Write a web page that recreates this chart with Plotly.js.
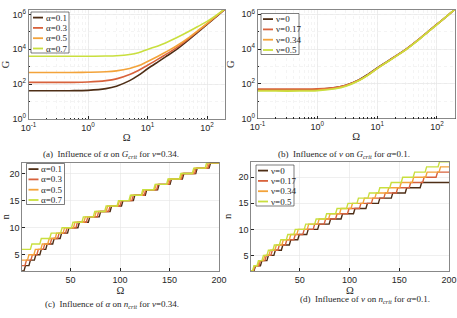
<!DOCTYPE html>
<html>
<head>
<meta charset="utf-8">
<script src="https://cdn.plot.ly/plotly-3.0.1.min.js"></script>
<style>html,body{margin:0;padding:0;background:#fff;}#chart{width:457px;height:318px;}</style>
</head>
<body>
<div id="chart"></div>
<script>
// ---------- DATA ----------
const omegaG = [0.1, 0.2, 0.5, 1, 2, 3, 5, 7, 10, 15, 20, 30, 50, 70, 100, 150, 200];

// (a) G_crit for nu = 0.34, varying alpha
const alphaLabels = ['α=0.1', 'α=0.3', 'α=0.5', 'α=0.7'];
const G_alpha01 = [42, 42, 42, 44, 55, 76, 158, 316, 759, 1905, 3631, 9120, 36300, 95500, 263000, 851000, 1950000];
const G_alpha03 = [126, 126, 126, 132, 158, 200, 355, 603, 1202, 2692, 4898, 11480, 41690, 104700, 281800, 891000, 1995000];
const G_alpha05 = [468, 468, 468, 479, 513, 575, 794, 1122, 1995, 3981, 6761, 14790, 47860, 117500, 302000, 933000, 2042000];
const G_alpha07 = [3981, 3981, 3981, 3981, 4074, 4266, 5012, 6310, 9800, 15500, 23000, 43650, 107200, 199500, 398100, 1000000, 2138000];

// (b) G_crit for alpha = 0.1, varying nu
const nuLabels = ['ν=0', 'ν=0.17', 'ν=0.34', 'ν=0.5'];
const G_nu000 = [44.7, 44.7, 44.7, 46.8, 60.3, 83.2, 174, 347, 813, 1995, 3802, 9550, 37150, 97700, 269000, 851000, 1950000];
const G_nu017 = [50.1, 50.1, 50.1, 51.3, 60.3, 81.3, 166, 331, 776, 1950, 3715, 9333, 36700, 95500, 263000, 851000, 1950000];
const G_nu034 = G_alpha01;
const G_nu050 = [38, 38, 38, 39.8, 51.3, 72.4, 155, 309, 741, 1862, 3548, 8913, 35480, 93300, 257000, 851000, 1950000];

// (c),(d) n_crit: starting n at Omega = 1 and the Omega values where n steps up by one
const omegaStart = 1, omegaEnd = 200, omegaStep = 1.5;
const nStart_alpha = [2, 3, 4, 6];
const nJump_alpha01 = [3, 8, 13.5, 19, 25, 32, 39.5, 47, 57.5, 68, 79, 90, 101.5, 113.5, 125.5, 138, 150.5, 163, 176.5, 190];
const nJump_alpha03 = [4, 10, 16, 22.5, 29.5, 37, 45, 55.5, 66, 77, 88.5, 100, 112, 124.5, 137, 149.5, 162, 175.5, 189];
const nJump_alpha05 = [6.5, 13, 20, 27, 34.5, 42.5, 53, 63.5, 74.5, 86, 98, 110, 122.5, 135, 148, 161, 174, 187.5];
const nJump_alpha07 = [9.5, 19, 29, 40, 51, 61.5, 73, 84.5, 97, 109, 121.5, 134, 147, 160, 173, 186];

const nStart_nu = [2, 2, 2, 2];
const nJump_nu000 = [4, 10.5, 17, 24, 31.5, 39.5, 48, 57, 68, 79.5, 91.5, 104, 116.5, 129, 142, 156, 171];
const nJump_nu017 = [3.5, 9, 15, 21, 28, 35.5, 44, 53, 63.5, 74.5, 86, 98, 110, 122, 134.5, 147, 160, 173.5, 187];
const nJump_nu034 = nJump_alpha01;
const nJump_nu050 = [2.5, 7, 12, 17, 23, 29.5, 36.5, 44, 54.5, 65, 75.5, 86, 97, 107.5, 118.5, 129, 140.5, 152, 164, 176, 189];

const logTickVals_x = [0.1, 1, 10, 100];
const logTickText_x = ['10<sup>-1</sup>', '10<sup>0</sup>', '10<sup>1</sup>', '10<sup>2</sup>'];
const logTickVals_y = [1, 100, 10000, 1000000];
const logTickText_y = ['10<sup>0</sup>', '10<sup>2</sup>', '10<sup>4</sup>', '10<sup>6</sup>'];
const linTickVals_x = [50, 100, 150, 200];
const linTickVals_y = [5, 10, 15, 20];

const colors = ['#4e2e16', '#d8623c', '#f3a33a', '#c9df3e'];

// ---------- BUILD ----------
const W = 457, H = 318;
function stairs(n0, jumps) {
  const x = [omegaStart], y = [n0];
  let n = n0;
  jumps.forEach(t => { x.push(t); y.push(n); n += 1; x.push(t + omegaStep); y.push(n); });
  x.push(omegaEnd); y.push(n);
  return {x, y};
}
const traces = [];
[G_alpha01, G_alpha03, G_alpha05, G_alpha07].forEach((g, i) => traces.push({
  x: omegaG, y: g, type: 'scatter', mode: 'lines', name: alphaLabels[i], xaxis: 'x', yaxis: 'y',
  line: {color: colors[i], width: 1.6, shape: 'spline'}, showlegend: false }));
[G_nu000, G_nu017, G_nu034, G_nu050].forEach((g, i) => traces.push({
  x: omegaG, y: g, type: 'scatter', mode: 'lines', name: nuLabels[i], xaxis: 'x2', yaxis: 'y2',
  line: {color: colors[i], width: 1.6, shape: 'spline'}, showlegend: false }));
[nJump_alpha01, nJump_alpha03, nJump_alpha05, nJump_alpha07].forEach((j, i) => {
  const s = stairs(nStart_alpha[i], j);
  traces.push({x: s.x, y: s.y, type: 'scatter', mode: 'lines', name: alphaLabels[i], xaxis: 'x3', yaxis: 'y3',
    line: {color: colors[i], width: 1.4}, showlegend: false});
});
[nJump_nu000, nJump_nu017, nJump_nu034, nJump_nu050].forEach((j, i) => {
  const s = stairs(nStart_nu[i], j);
  traces.push({x: s.x, y: s.y, type: 'scatter', mode: 'lines', name: nuLabels[i], xaxis: 'x4', yaxis: 'y4',
    line: {color: colors[i], width: 1.4}, showlegend: false});
});

const tickFont = {family: 'Liberation Sans, Arial, sans-serif', size: 9, color: '#262626'};
const titleFont = {family: 'Liberation Serif, Times New Roman, serif', size: 10.5, color: '#262626'};
const frame = {showline: true, mirror: true, linecolor: '#555', linewidth: 0.7, ticks: 'inside', ticklen: 3,
  tickcolor: '#262626', tickfont: tickFont, zeroline: false, gridcolor: '#e4e4e4', gridwidth: 0.6};
function logX(dom, anchor) {
  return Object.assign({}, frame, {type: 'log', domain: dom, anchor: anchor, range: [-1, Math.log10(200)],
    tickvals: logTickVals_x, ticktext: logTickText_x,
    minor: {dtick: 'D1', ticks: 'inside', ticklen: 1.5, tickcolor: '#262626', showgrid: true, gridcolor: '#ececec', griddash: 'dot', gridwidth: 0.6},
    title: {text: 'Ω', font: titleFont, standoff: 1}});
}
function logY(dom, anchor) {
  return Object.assign({}, frame, {type: 'log', domain: dom, anchor: anchor, range: [0, 6.25],
    tickvals: logTickVals_y, ticktext: logTickText_y,
    minor: {dtick: 1, ticks: 'inside', ticklen: 1.5, tickcolor: '#262626', showgrid: true, gridcolor: '#ececec', griddash: 'dot', gridwidth: 0.6},
    title: {text: 'G', font: titleFont, standoff: 4}});
}
function linX(dom, anchor) {
  return Object.assign({}, frame, {domain: dom, anchor: anchor, range: [omegaStart, omegaEnd],
    tickvals: linTickVals_x, title: {text: 'Ω', font: titleFont, standoff: 0}});
}
function linY(dom, anchor, top) {
  return Object.assign({}, frame, {domain: dom, anchor: anchor, range: [2, top],
    tickvals: linTickVals_y, title: {text: 'n', font: titleFont, standoff: 4}});
}

const shapes = [], annotations = [];
function addLegend(xl, yt, names) {
  const w = 38, h = 41, row = 10.3, first = 5.6;
  shapes.push({type: 'rect', xref: 'paper', yref: 'paper', x0: xl / W, x1: (xl + w) / W, y0: 1 - yt / H, y1: 1 - (yt + h) / H,
    line: {color: '#262626', width: 0.6}, fillcolor: 'white', layer: 'above'});
  names.forEach((nm, i) => {
    const y = yt + first + i * row;
    shapes.push({type: 'line', xref: 'paper', yref: 'paper', x0: (xl + 2) / W, x1: (xl + 12) / W, y0: 1 - y / H, y1: 1 - y / H,
      line: {color: colors[i], width: 1.8}, layer: 'above'});
    annotations.push({text: nm, xref: 'paper', yref: 'paper', x: (xl + 12.5) / W, y: 1 - y / H, xanchor: 'left', yanchor: 'middle',
      showarrow: false, font: {family: 'Liberation Serif, Times New Roman, serif', size: 9, color: '#262626'}});
  });
}
addLegend(31, 12, alphaLabels);
addLegend(261, 13.5, nuLabels);
addLegend(26.5, 163.5, alphaLabels);
addLegend(256, 165, nuLabels);

const capFont = {family: 'Liberation Serif, Times New Roman, serif', size: 9, color: '#262626'};
function caption(cx, cy, txt) {
  annotations.push({text: txt, xref: 'paper', yref: 'paper', x: cx / W, y: 1 - cy / H, xanchor: 'center', yanchor: 'middle', showarrow: false, font: capFont});
}
caption(111, 154.5, '(a)  Influence of <i>α</i> on <i>G</i><sub><i>crit</i></sub> for <i>ν</i>=0.34.');
caption(344, 154.5, '(b)  Influence of <i>ν</i> on <i>G</i><sub><i>crit</i></sub> for <i>α</i>=0.1.');
caption(112, 304, '(c)  Influence of <i>α</i> on <i>n</i><sub><i>crit</i></sub> for <i>ν</i>=0.34.');
caption(365, 299.5, '(d)  Influence of <i>ν</i> on <i>n</i><sub><i>crit</i></sub> for <i>α</i>=0.1.');

function dx(a, b) { return [a / W, b / W]; }
function dy(top, bottom) { return [1 - bottom / H, 1 - top / H]; }

const layout = {
  width: W, height: H, margin: {l: 0, r: 0, t: 0, b: 0},
  paper_bgcolor: 'white', plot_bgcolor: 'white', showlegend: false,
  xaxis: logX(dx(28.5, 225), 'y'), yaxis: logY(dy(10, 119), 'x'),
  xaxis2: logX(dx(257.5, 455), 'y2'), yaxis2: logY(dy(10, 118.5), 'x2'),
  xaxis3: linX(dx(22, 219), 'y3'), yaxis3: linY(dy(162.7, 271), 'x3', 22),
  xaxis4: linX(dx(251, 449), 'y4'), yaxis4: linY(dy(161.7, 271), 'x4', 23),
  shapes: shapes, annotations: annotations
};
Plotly.newPlot('chart', traces, layout, {displayModeBar: false, staticPlot: true});
</script>
</body>
</html>
